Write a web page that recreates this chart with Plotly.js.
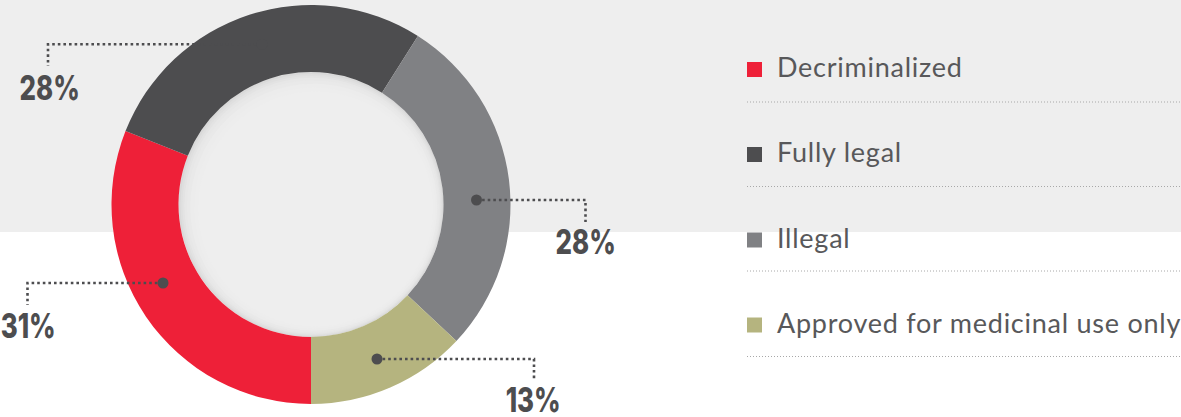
<!DOCTYPE html>
<html>
<head>
<meta charset="utf-8">
<script src="https://cdn.plot.ly/plotly-3.0.1.min.js"></script>
<style>
html,body{margin:0;padding:0;background:#ffffff;}
#chart{width:1181px;height:417px;}
</style>
</head>
<body>
<div id="chart"></div>
<script>
// ---- data ----
const categories = ["Decriminalized", "Fully legal", "Illegal", "Approved for medicinal use only"];
const shares = [31, 28, 28, 13];
const sliceColors = ["#ee2038", "#4d4d4f", "#808184", "#b5b47f"];

// ---- layout config (pixels) ----
const W = 1181, H = 417;
const cx = 311, cy = 204.5, rOuter = 199.5, rInner = 132.5;
const X = p => p / W;
const Y = p => 1 - p / H;

// leader lines: dot, elbow, end; label centre
const leaders = [
  {dot:[163,283], elbow:[27.5,283], end:[27.5,305], label:[27.5,325]},
  {dot:[262,44.3], elbow:[48,44.3], end:[48,66], label:[49,87.5]},
  {dot:[476.5,200], elbow:[585.5,200], end:[585.5,222], label:[585.5,241.5]},
  {dot:[377,359], elbow:[534,359], end:[534,381], label:[533,399.5]}
];
const legendRows = [69.5, 154.5, 240, 325];
const legendLines = [102, 186.5, 271, 356.5];

const shapes = [];
const annotations = [];

// grey band
shapes.push({type:"rect", xref:"paper", yref:"paper", x0:0, x1:1, y0:Y(232), y1:1,
  fillcolor:"#eeeeee", line:{width:0}, layer:"below"});

// hole with soft inner shadow
const shadeSteps = [
  {r:0, c:"#d9d9d9"}, {r:1.5, c:"#dfdfdf"}, {r:3, c:"#e3e3e3"}, {r:4.5, c:"#e7e7e7"},
  {r:6.5, c:"#e9e9e9"}, {r:9, c:"#ececec"}, {r:12, c:"#ededed"}, {r:15, c:"#eeeeee"}
];
shadeSteps.forEach((s) => {
  const off = s.r * 0.3;
  const rr = rInner - s.r;
  shapes.push({type:"circle", xref:"paper", yref:"paper",
    x0:X(cx + off - rr), x1:X(cx + off + rr), y0:Y(cy + off + rr), y1:Y(cy + off - rr),
    fillcolor:s.c, line:{width:0}, layer:"below"});
});

// leaders
leaders.forEach((L, i) => {
  const pts = [L.dot, L.elbow, L.end].map(p => X(p[0]) + "," + Y(p[1]));
  shapes.push({type:"path", xref:"paper", yref:"paper",
    path:"M " + pts[0] + " L " + pts[1] + " L " + pts[2],
    line:{color:"#4d4d4f", width:2.6, dash:"2.6px,3px"}});
  shapes.push({type:"circle", xref:"paper", yref:"paper",
    x0:X(L.dot[0]-5.5), x1:X(L.dot[0]+5.5), y0:Y(L.dot[1]+5.5), y1:Y(L.dot[1]-5.5),
    fillcolor:"#4d4d4f", line:{width:0}});
  annotations.push({xref:"paper", yref:"paper", x:X(L.label[0]), y:Y(L.label[1]),
    xanchor:"center", yanchor:"middle", showarrow:false,
    text:shares[i] + "%", name:"pct",
    font:{family:"Inter, 'DejaVu Sans', sans-serif", size:34, weight:800, color:"#4d4d4f"}});
});

// legend
categories.forEach((c, i) => {
  const yc = legendRows[i];
  shapes.push({type:"rect", xref:"paper", yref:"paper",
    x0:X(747), x1:X(762), y0:Y(yc+7.5), y1:Y(yc-7.5), fillcolor:sliceColors[i], line:{width:0}});
  shapes.push({type:"line", xref:"paper", yref:"paper",
    x0:X(747), x1:1, y0:Y(legendLines[i]), y1:Y(legendLines[i]),
    line:{color:"#a8a8a8", width:1, dash:"1px,2px"}});
  annotations.push({xref:"paper", yref:"paper", x:X(775), y:Y(yc-3),
    xanchor:"left", yanchor:"middle", showarrow:false, text:c, name:"leg",
    font:{family:"Lato, 'Noto Sans', sans-serif", size:27, color:"#58585a"}});
});

const data = [{
  type:"pie",
  labels:categories,
  values:shares,
  marker:{colors:sliceColors, line:{width:0}},
  hole:rInner / rOuter,
  sort:false,
  direction:"clockwise",
  rotation:180,
  textinfo:"none",
  hoverinfo:"none",
  showlegend:false,
  domain:{x:[X(cx - rOuter), X(cx + rOuter)], y:[Y(cy + rOuter), Y(cy - rOuter)]}
}];

const layout = {
  width:W, height:H,
  margin:{l:0, r:0, t:0, b:0},
  paper_bgcolor:"#ffffff",
  plot_bgcolor:"rgba(0,0,0,0)",
  showlegend:false,
  shapes:shapes,
  annotations:annotations
};

Plotly.newPlot("chart", data, layout, {displayModeBar:false, staticPlot:true}).then(() => {
  document.querySelectorAll("g.annotation text.annotation-text").forEach(t => {
    const s = t.textContent;
    if (/%$/.test(s)) {
      const w = t.getComputedTextLength();
      t.setAttribute("textLength", (w * 0.76).toFixed(1));
      t.setAttribute("lengthAdjust", "spacingAndGlyphs");
    } else {
      const w0 = t.getComputedTextLength();
      t.style.letterSpacing = "0.75px";
      const w1 = t.getComputedTextLength();
      const prev = t.getAttribute("transform") || "";
      t.setAttribute("transform", prev + " translate(" + ((w1 - w0) / 2).toFixed(2) + ",0)");
    }
  });
});
</script>
</body>
</html>
